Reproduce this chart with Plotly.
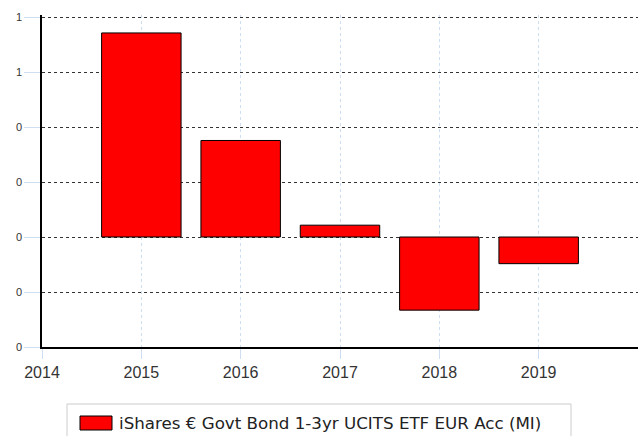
import plotly.graph_objects as go

years = [2015, 2016, 2017, 2018, 2019]
returns = [0.742, 0.351, 0.043, -0.266, -0.097]
series_name = "iShares € Govt Bond 1-3yr UCITS ETF EUR Acc (MI)"
x_tick_vals = [2014, 2015, 2016, 2017, 2018, 2019]
x_tick_text = ["2014", "2015", "2016", "2017", "2018", "2019"]
y_tick_vals = [-0.4, -0.2, 0.0, 0.2, 0.4, 0.6, 0.8]
y_tick_text = ["0", "0", "0", "0", "0", "1", "1"]

W, H = 640, 436
L, R, T, B = 42, 2, 15, 89
pw, ph = W - L - R, H - T - B

def px(x):
    return (x - L) / pw

def py(y):
    return (H - B - y) / ph

fig = go.Figure()
fig.add_trace(go.Bar(
    x=years, y=returns, width=0.8, name=series_name,
    marker=dict(color="#ff0000", line=dict(color="#000000", width=1)),
    showlegend=False,
))

fig.update_layout(
    width=W, height=H,
    margin=dict(l=L, r=R, t=T, b=B, pad=0),
    paper_bgcolor="white", plot_bgcolor="white",
    font=dict(family="Liberation Sans, Arial, sans-serif", color="#333333"),
    xaxis=dict(
        range=[2014, 2020], tickvals=x_tick_vals, ticktext=x_tick_text,
        showgrid=True, gridcolor="#cfdff2", griddash="dot", gridwidth=1,
        ticks="outside", ticklen=10, tickcolor="#cfdff2",
        showline=True, linecolor="#000000", linewidth=1.5,
        tickfont=dict(size=16, color="#333333"), zeroline=False,
    ),
    yaxis=dict(
        range=[-0.4, 0.8 + 2 / 275], tickvals=y_tick_vals, ticktext=y_tick_text,
        showgrid=True, gridcolor="#333333", griddash="dot", gridwidth=1,
        ticks="outside", ticklen=16, tickcolor="#cfdff2",
        showline=True, linecolor="#000000", linewidth=1.5,
        tickfont=dict(size=11, color="#333333"), zeroline=False,
    ),
    shapes=[
        dict(type="rect", xref="paper", yref="paper",
             x0=px(67), x1=px(571), y0=py(404), y1=py(442),
             line=dict(color="#cccccc", width=1), fillcolor="white"),
        dict(type="rect", xref="paper", yref="paper",
             x0=px(80), x1=px(112), y0=py(416), y1=py(430),
             line=dict(color="#000000", width=1), fillcolor="#ff0000"),
    ],
    annotations=[
        dict(text=series_name, xref="paper", yref="paper",
             x=px(117), y=py(423), xanchor="left", yanchor="middle",
             showarrow=False,
             font=dict(family="DejaVu Sans, Verdana, sans-serif", size=16.7, color="#222222")),
    ],
)

fig.write_html("out.html")
